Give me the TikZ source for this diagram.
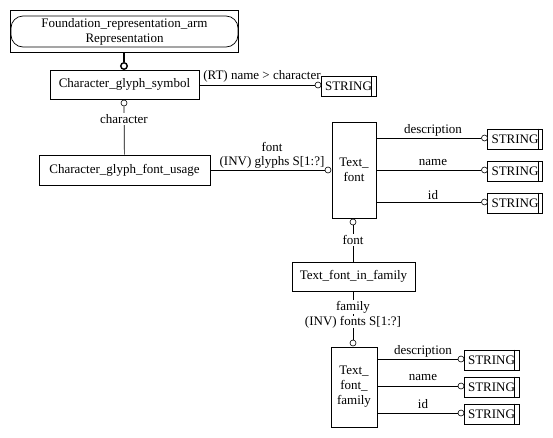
\documentclass[tikz,border=0pt]{standalone}
\usepackage{fontspec}
\setmainfont{Liberation Serif}
\begin{document}
\begin{tikzpicture}[x=1pt,y=-1pt,
  every node/.style={font=\fontsize{13}{15}\selectfont},
  ent/.style={draw, rectangle, line width=0.7pt, inner sep=0pt, align=center},
  ring/.style={circle, draw, fill=white, inner sep=0pt, minimum size=6pt, line width=0.6pt},
  strbox/.style={draw, rectangle, line width=0.7pt, inner sep=0pt, minimum width=55pt, minimum height=20pt},
  lbl/.style={fill=white, inner sep=1pt},
  conn/.style={line width=0.7pt}]
\useasboundingbox (0,0) rectangle (553,437);
% top
\node[ent, minimum width=228pt, minimum height=42pt] (foundout) at (124,31) {};
\node[ent, rounded corners=12pt, minimum width=227pt, minimum height=31pt] (found) at (124.5,31.5) {Foundation\_representation\_arm\\Representation};
\node[ent, minimum width=149pt, minimum height=29pt] (cgs) at (124.5,84.5) {Character\_glyph\_symbol};
\node[ring, line width=1.4pt, minimum size=6.5pt] (r0) at (124,66) {};
\draw[line width=1.6pt] (foundout.south) -- (r0);
% name string
\node[strbox] (s0) at (348.5,86.5) {STRING\hspace{5pt}};
\draw[conn] ([xshift=-5pt]s0.north east) -- ([xshift=-5pt]s0.south east);
\node[ring] (rs0) at (318,85) {};
\draw[conn] (rs0 -| cgs.east) -- (rs0);
\node[inner sep=0pt] (l0) at (262,76) {(RT) name > character};
% character
\node[ent, minimum width=171pt, minimum height=30pt] (cgfu) at (124.5,170) {Character\_glyph\_font\_usage};
\node[ring] (r1) at (124,103) {};
\draw[conn] (r1) -- (cgfu);
\node[lbl] (l1) at (124,119) {character};
% Text_font
\node[ent, minimum width=44pt, minimum height=96pt] (tf) at (354,170) {Text\_\\font};
\node[ring] (r2) at (328,170) {};
\draw[conn] (cgfu.east) -- (r2);
\node[inner sep=0pt] (l2) at (272,147) {font};
\node[inner sep=0pt] (l3) at (272,162) {(INV) glyphs S[1:?]};
% Text_font attributes
\foreach \i/\y/\t/\ly in {1/138/description/130, 2/170/name/162, 3/202/id/195} {
  \node[strbox] (ts\i) at (515,\y+1) {STRING\hspace{5pt}};
  \draw[conn] ([xshift=-5pt]ts\i.north east) -- ([xshift=-5pt]ts\i.south east);
  \node[ring] (tr\i) at (484.5,\y) {};
  \draw[conn] (tr\i -| tf.east) -- (tr\i);
  \node[inner sep=0pt] (tl\i) at (433,\ly) {\t};
}
% Text_font_in_family
\node[ent, minimum width=123pt, minimum height=29pt] (tfif) at (353.5,276.5) {Text\_font\_in\_family};
\node[ring] (r3) at (353,222) {};
\draw[conn] (r3) -- (r3 |- tfif.north);
\node[lbl] (l4) at (353,240) {font};
% Text_font_family
\node[ent, minimum width=46pt, minimum height=80pt] (tff) at (354,387) {Text\_\\font\_\\family};
\node[ring] (r4) at (353,343) {};
\draw[conn] (r4 |- tfif.south) -- (r4);
\node[lbl] (l5) at (353,307) {family};
\node[lbl, inner sep=0.5pt] (l6) at (353,322) {(INV) fonts S[1:?]};
\foreach \i/\y/\t/\ly in {1/359/description/351, 2/386/name/377, 3/413/id/404} {
  \node[strbox] (fs\i) at (491.5,\y+1) {STRING\hspace{5pt}};
  \draw[conn] ([xshift=-5pt]fs\i.north east) -- ([xshift=-5pt]fs\i.south east);
  \node[ring] (fr\i) at (461,\y) {};
  \draw[conn] (fr\i -| tff.east) -- (fr\i);
  \node[inner sep=0pt] (fl\i) at (423,\ly) {\t};
}
\end{tikzpicture}
\end{document}
